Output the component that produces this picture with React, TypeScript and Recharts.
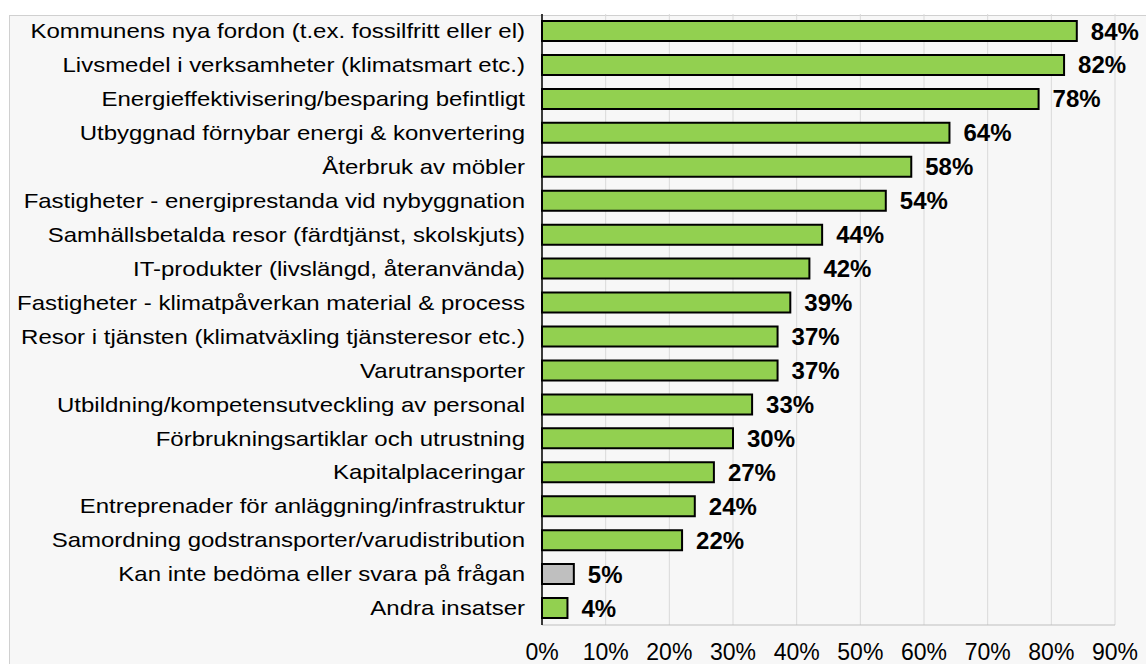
import React from 'react';
import { BarChart, Bar, XAxis, YAxis, CartesianGrid, LabelList, Cell } from 'recharts';

const categories = [
  'Kommunens nya fordon (t.ex. fossilfritt eller el)',
  'Livsmedel i verksamheter (klimatsmart etc.)',
  'Energieffektivisering/besparing befintligt',
  'Utbyggnad förnybar energi & konvertering',
  'Återbruk av möbler',
  'Fastigheter - energiprestanda vid nybyggnation',
  'Samhällsbetalda resor (färdtjänst, skolskjuts)',
  'IT-produkter (livslängd, återanvända)',
  'Fastigheter - klimatpåverkan material & process',
  'Resor i tjänsten (klimatväxling tjänsteresor etc.)',
  'Varutransporter',
  'Utbildning/kompetensutveckling av personal',
  'Förbrukningsartiklar och utrustning',
  'Kapitalplaceringar',
  'Entreprenader för anläggning/infrastruktur',
  'Samordning godstransporter/varudistribution',
  'Kan inte bedöma eller svara på frågan',
  'Andra insatser',
];

const values = [84, 82, 78, 64, 58, 54, 44, 42, 39, 37, 37, 33, 30, 27, 24, 22, 5, 4];

const xTicks = [0, 10, 20, 30, 40, 50, 60, 70, 80, 90];

const grayCategory = 'Kan inte bedöma eller svara på frågan';

const data = categories.map((name, i) => ({ name, value: values[i] }));

const font = 'Arial, "Liberation Sans", sans-serif';

// category labels in the original look horizontally stretched
const CategoryTick = (props: any) => {
  const { x, y, payload } = props;
  return (
    <g transform={`translate(${x},${y})`}>
      <text
        x={0}
        y={0}
        dy="0.36em"
        textAnchor="end"
        fill="#000"
        fontSize={20}
        fontFamily={font}
        transform="scale(1.2,1)"
      >
        {payload.value}
      </text>
    </g>
  );
};

export default function App() {
  return (
    <div style={{ position: 'absolute', left: 0, top: 0, width: 1146, height: 664, background: '#fff', overflow: 'hidden', fontFamily: font }}>
      <div
        style={{
          position: 'absolute',
          left: 9,
          top: 15,
          width: 1200,
          height: 700,
          background: '#f7f7f7',
          border: '1px solid #d0d0d0',
        }}
      />
      <div style={{ position: 'absolute', left: 0, top: 0 }}>
        <BarChart
          width={1146}
          height={664}
          data={data}
          layout="vertical"
          margin={{ top: 14, right: 31, bottom: 0, left: 0 }}
        >
          <CartesianGrid horizontal={false} stroke="#d9d9d9" strokeWidth={1} />
          <XAxis
            type="number"
            domain={[0, 90]}
            ticks={xTicks}
            tickFormatter={(v: number) => `${v}%`}
            axisLine={{ stroke: '#bfbfbf' }}
            tickLine={false}
            tickSize={0}
            tickMargin={19}
            tick={{ fill: '#000', fontSize: 23, fontFamily: font }}
            height={39}
          />
          <XAxis
            xAxisId="top"
            orientation="top"
            type="number"
            domain={[0, 90]}
            ticks={xTicks}
            axisLine={{ stroke: '#d0d0d0' }}
            tick={false}
            tickLine={false}
            height={0}
          />
          <YAxis
            type="category"
            dataKey="name"
            width={542}
            axisLine={{ stroke: '#000', strokeWidth: 1.5 }}
            tickLine={false}
            tickSize={0}
            tickMargin={17}
            interval={0}
            tick={<CategoryTick />}
          />
          <Bar dataKey="value" barSize={20} stroke="#000" strokeWidth={2} isAnimationActive={false}>
            {data.map((d) => (
              <Cell key={d.name} fill={d.name === grayCategory ? '#bfbfbf' : '#92d050'} />
            ))}
            <LabelList
              dataKey="value"
              position="right"
              offset={14}
              formatter={(v: number) => `${v}%`}
              style={{ fill: '#000', fontSize: 24, fontWeight: 'bold', fontFamily: font }}
            />
          </Bar>
        </BarChart>
      </div>
    </div>
  );
}
